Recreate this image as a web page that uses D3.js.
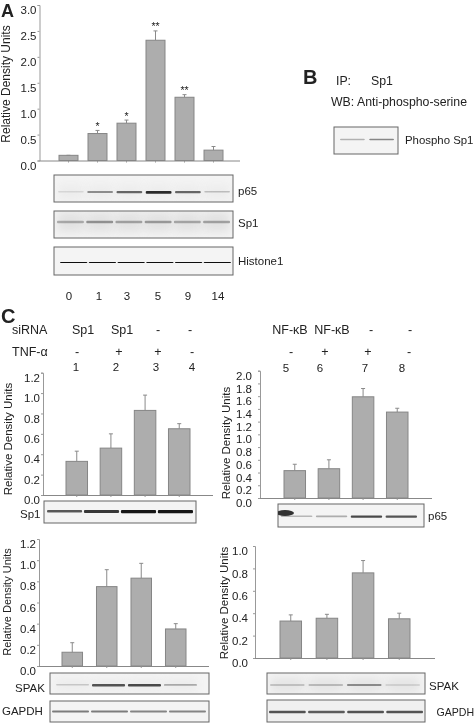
<!DOCTYPE html>
<html><head><meta charset="utf-8">
<script src="https://cdn.jsdelivr.net/npm/d3@7"></script>
<style>html,body{margin:0;padding:0;background:#fff}svg{display:block}text{font-family:"Liberation Sans",Arial,sans-serif;fill:#222}</style>
</head><body><svg id="c" width="475" height="723"></svg>
<script>
// ---- data ----
const timeLabels = ["0","1","3","5","9","14"];
const aValues = [0.10,0.52,0.72,2.32,1.22,0.20];
const aTops   = [0.10,0.58,0.78,2.50,1.27,0.27];
const aStars  = ["","*","*","**","**",""];
const lanes1 = ["1","2","3","4"];
const lanes2 = ["5","6","7","8"];
const c1Values = [0.33,0.46,0.83,0.65];
const c1Tops   = [0.43,0.60,0.98,0.70];
const c2Values = [0.43,0.46,1.59,1.35];
const c2Tops   = [0.53,0.60,1.72,1.41];
const c3Values = [0.13,0.75,0.83,0.35];
const c3Tops   = [0.22,0.91,0.97,0.40];
const c4Values = [0.33,0.355,0.76,0.35];
const c4Tops   = [0.385,0.39,0.87,0.40];
const aTicks = [0,0.5,1,1.5,2,2.5,3];
const c1Ticks = [0,0.2,0.4,0.6,0.8,1,1.2];
const c2Ticks = [0,0.2,0.4,0.6,0.8,1,1.2,1.4,1.6,1.8,2];
const c4Ticks = [0,0.2,0.4,0.6,0.8,1];
const siRNA1 = ["Sp1","Sp1","-","-"];
const siRNA2 = ["NF-κB","NF-κB","-","-"];
const tnf1 = ["-","+","+","-"];
const tnf2 = ["-","+","+","-"];
const blotP65A = [.12,.5,.7,1,.7,.25];
const blotSp1A = [.4,.55,.45,.5,.42,.45];
const blotHistone = [1,1,1,1,1,1];
const blotPhospho = [.4,.65];
const blotSp1C = [.7,.85,1,1];
const blotP65C = [.3,.35,.85,.8];
const blotSpak1 = [.2,.8,.85,.35];
const blotGapdh1 = [.65,.65,.6,.6];
const blotSpak2 = [.25,.3,.6,.15];
const blotGapdh2 = [.8,.75,.8,.8];

// ---- drawing ----
const svg = d3.select("#c");
const defs = svg.append("defs");
[["soft",.3],["b1",.7],["b2",1.6],["b3",5]].forEach(([id,s])=>
  defs.append("filter").attr("id",id).attr("x","-30%").attr("y","-100%").attr("width","160%").attr("height","300%")
    .append("feGaussianBlur").attr("stdDeviation",s));
const root = svg.append("g").attr("filter","url(#soft)");

function txt(x,y,s,size=12,anchor="start",weight="normal"){
  return root.append("text").attr("x",x).attr("y",y).attr("font-size",size)
    .attr("text-anchor",anchor).attr("font-weight",weight).text(s);
}
function ylabel(x,cy,size){
  root.append("text").attr("transform",`translate(${x},${cy}) rotate(-90)`)
    .attr("text-anchor","middle").attr("font-size",size).text("Relative Density Units");
}
function chart(o){
  const y = d3.scaleLinear().domain([0,o.max]).range([o.y0,o.yTop]);
  const x = d3.scaleBand().domain(o.cats).range(o.xr).paddingInner(o.pad);
  const g = root.append("g");
  const ya = g.append("g").attr("transform",`translate(${o.ax},0)`)
    .call(d3.axisLeft(y).tickValues(o.ticks).tickFormat(d3.format(".1f")).tickSize(2).tickPadding(o.tp||2));
  ya.select(".domain").attr("stroke","#999").attr("stroke-width",1);
  ya.selectAll(".tick line").attr("stroke","#999");
  ya.selectAll(".tick text").attr("dy","0.75em").attr("font-size",o.fs||11.5).attr("font-family",'"Liberation Sans"').attr("fill","#222");
  const xa = g.append("g").attr("transform",`translate(0,${o.y0})`)
    .call(d3.axisBottom(x).tickSize(2).tickFormat(""));
  xa.select(".domain").attr("d",`M${o.ax},0.5H${o.xEnd}`).attr("stroke","#888");
  xa.selectAll(".tick line").attr("stroke","#999");
  const cx = d=>x(d)+x.bandwidth()/2;
  g.selectAll(".e").data(o.cats).join("path")
    .attr("d",(d,i)=>`M${cx(d)},${y(o.vals[i])}V${y(o.tops[i])}M${cx(d)-2},${y(o.tops[i])}H${cx(d)+2}`)
    .attr("stroke","#8a8a8a").attr("fill","none");
  g.selectAll(".b").data(o.cats).join("rect")
    .attr("x",d=>x(d)).attr("width",x.bandwidth())
    .attr("y",(d,i)=>y(o.vals[i])).attr("height",(d,i)=>o.y0-y(o.vals[i]))
    .attr("fill","#adadad").attr("stroke","#868686");
  if(o.stars) g.selectAll(".s").data(o.cats).join("text")
    .attr("x",cx).attr("y",(d,i)=>y(o.tops[i])-0.5).attr("text-anchor","middle")
    .attr("font-size",10.5).text((d,i)=>o.stars[i]);
}
function blot(o){
  const g = root.append("g");
  g.append("rect").attr("x",o.x0).attr("y",o.y0).attr("width",o.x1-o.x0).attr("height",o.y1-o.y0)
    .attr("fill",o.bg||"#f4f4f4").attr("stroke","#666").attr("stroke-width",1);
  const clipId="cl"+Math.round(o.x0)+"_"+Math.round(o.y0);
  defs.append("clipPath").attr("id",clipId).append("rect").attr("x",o.x0).attr("y",o.y0).attr("width",o.x1-o.x0).attr("height",o.y1-o.y0);
  const inner = g.append("g").attr("clip-path",`url(#${clipId})`);
  const x = d3.scaleBand().domain(d3.range(o.data.length)).range(o.xr).paddingInner(o.pad||.12);
  const op = d3.scaleLinear().domain([0,1]).range([0,.95]);
  if(o.smear) inner.selectAll(".sm").data(o.data).join("rect")
    .attr("x",(d,i)=>x(i)).attr("width",x.bandwidth()).attr("y",o.yc-o.smear).attr("height",o.smear*2)
    .attr("fill","#999").attr("opacity",o.smearOp||.12).attr("filter","url(#b3)");
  inner.selectAll(".bd").data(o.data).join("rect")
    .attr("x",(d,i)=>x(i)).attr("width",x.bandwidth())
    .attr("y",o.yc-(o.h||2)/2).attr("height",d=>(o.h||2)*(o.grow?0.6+d*o.grow:1)).attr("rx",1)
    .attr("fill",o.color||"#222").attr("opacity",d=>op(d)).attr("filter",`url(#${o.blur||"b1"})`);
  return inner;
}

// Panel A
txt(1,16.5,"A",18,"start","bold");
ylabel(10,84,12);
chart({cats:timeLabels,vals:aValues,tops:aTops,stars:aStars,max:3,ticks:aTicks,ax:39.5,y0:160.5,yTop:5,xr:[59,223],pad:.345,xEnd:240,tp:1});
blot({x0:54,x1:233,y0:175,y1:202,xr:[58,230],data:blotP65A,yc:192,h:2,grow:.8,smear:8,smearOp:.08});
blot({x0:54,x1:233,y0:211,y1:238,xr:[57,230],data:blotSp1A,yc:222,h:2.6,color:"#444",smear:10,smearOp:.2,pad:.08});
blot({x0:54,x1:233,y0:247,y1:275,xr:[60,231],data:blotHistone,yc:262.5,h:1.1,color:"#000",blur:"soft",pad:.05});
const aLabelX=[69,99,127,158,188,218];
txt(238,195,"p65",11.5); txt(238,227,"Sp1",11.5); txt(238,265,"Histone1",11.5);
timeLabels.forEach((t,i)=>txt(aLabelX[i],300,t,11.5,"middle"));

// Panel B
txt(303,84,"B",20,"start","bold");
txt(336,85,"IP:",12.3); txt(371,85,"Sp1",12.3); txt(331,106,"WB: Anti-phospho-serine",12.3);
blot({x0:334,x1:398,y0:127,y1:154,xr:[340,394],data:blotPhospho,yc:139.5,h:1.5,color:"#444",pad:.15});
txt(405,144,"Phospho Sp1",11.4);

// Panel C header
txt(1,323,"C",20,"start","bold");
txt(12,334,"siRNA",12.5); txt(12,356,"TNF-α",12.5);
const si1X=[83,122,158,190], tn1X=[77,119,158,192], nu1X=[76,116,156,192];
const si2X=[290,332,371,410], tn2X=[291,325,368,409], nu2X=[286,320,365,402];
lanes1.forEach((l,i)=>{txt(si1X[i],334,siRNA1[i],12.5,"middle");txt(tn1X[i],356,tnf1[i],12.5,"middle");txt(nu1X[i],371,l,11.5,"middle");});
lanes2.forEach((l,i)=>{txt(si2X[i],334,siRNA2[i],12.5,"middle");txt(tn2X[i],356,tnf2[i],12.5,"middle");txt(nu2X[i],372,l,11.5,"middle");});

// C1
ylabel(11.5,439,11.5);
chart({cats:lanes1,vals:c1Values,tops:c1Tops,max:1.2,ticks:c1Ticks,ax:43,y0:495,yTop:372.7,xr:[66,190],pad:.37,xEnd:213,tp:1});
blot({x0:44,x1:196,y0:501,y1:523,xr:[47,193],data:blotSp1C,yc:511,h:2.2,grow:.9,color:"#111",pad:.05});
txt(20,518,"Sp1",11.5);

// C2
ylabel(230,443,11.5);
chart({cats:lanes2,vals:c2Values,tops:c2Tops,max:2,ticks:c2Ticks,ax:260,y0:498,yTop:370.7,xr:[284,408],pad:.37,xEnd:432,tp:6});
const p65 = blot({x0:278,x1:424,y0:504,y1:527,xr:[281,417],data:blotP65C,yc:516.5,h:2.2,grow:.6,color:"#222",pad:.1});
p65.append("ellipse").attr("cx",285).attr("cy",513).attr("rx",9).attr("ry",3).attr("fill","#333").attr("filter","url(#b1)");
txt(428,520,"p65",11.5);

// C3
ylabel(11,602,11);
chart({cats:lanes1,vals:c3Values,tops:c3Tops,max:1.2,ticks:c1Ticks,ax:39,y0:666,yTop:539,xr:[62,186],pad:.405,xEnd:209,tp:1});
blot({x0:50,x1:209,y0:673,y1:694,xr:[56,197],data:blotSpak1,yc:685,h:2,grow:.8,pad:.08,smear:7,smearOp:.08});
blot({x0:50,x1:209,y0:701,y1:722,xr:[52,206],data:blotGapdh1,yc:711.5,h:2,color:"#333",pad:.05});
txt(15,692,"SPAK",11.5); txt(2,715,"GAPDH",11.5);

// C4
ylabel(228,603,11.5);
chart({cats:lanes2,vals:c4Values,tops:c4Tops,max:1,ticks:c4Ticks,ax:255,y0:658,yTop:546,xr:[280,410],pad:.405,xEnd:435,tp:5});
blot({x0:267,x1:425,y0:673,y1:694,xr:[270,420],data:blotSpak2,yc:685,h:2,color:"#444",pad:.1,smear:8,smearOp:.16});
blot({x0:267,x1:425,y0:700,y1:722,xr:[269,423],data:blotGapdh2,yc:712,h:2.4,color:"#222",pad:.06,bg:"#f0f0f0"});
txt(429,690,"SPAK",11.5); txt(436.5,716,"GAPDH",10.6);
</script></body></html>
